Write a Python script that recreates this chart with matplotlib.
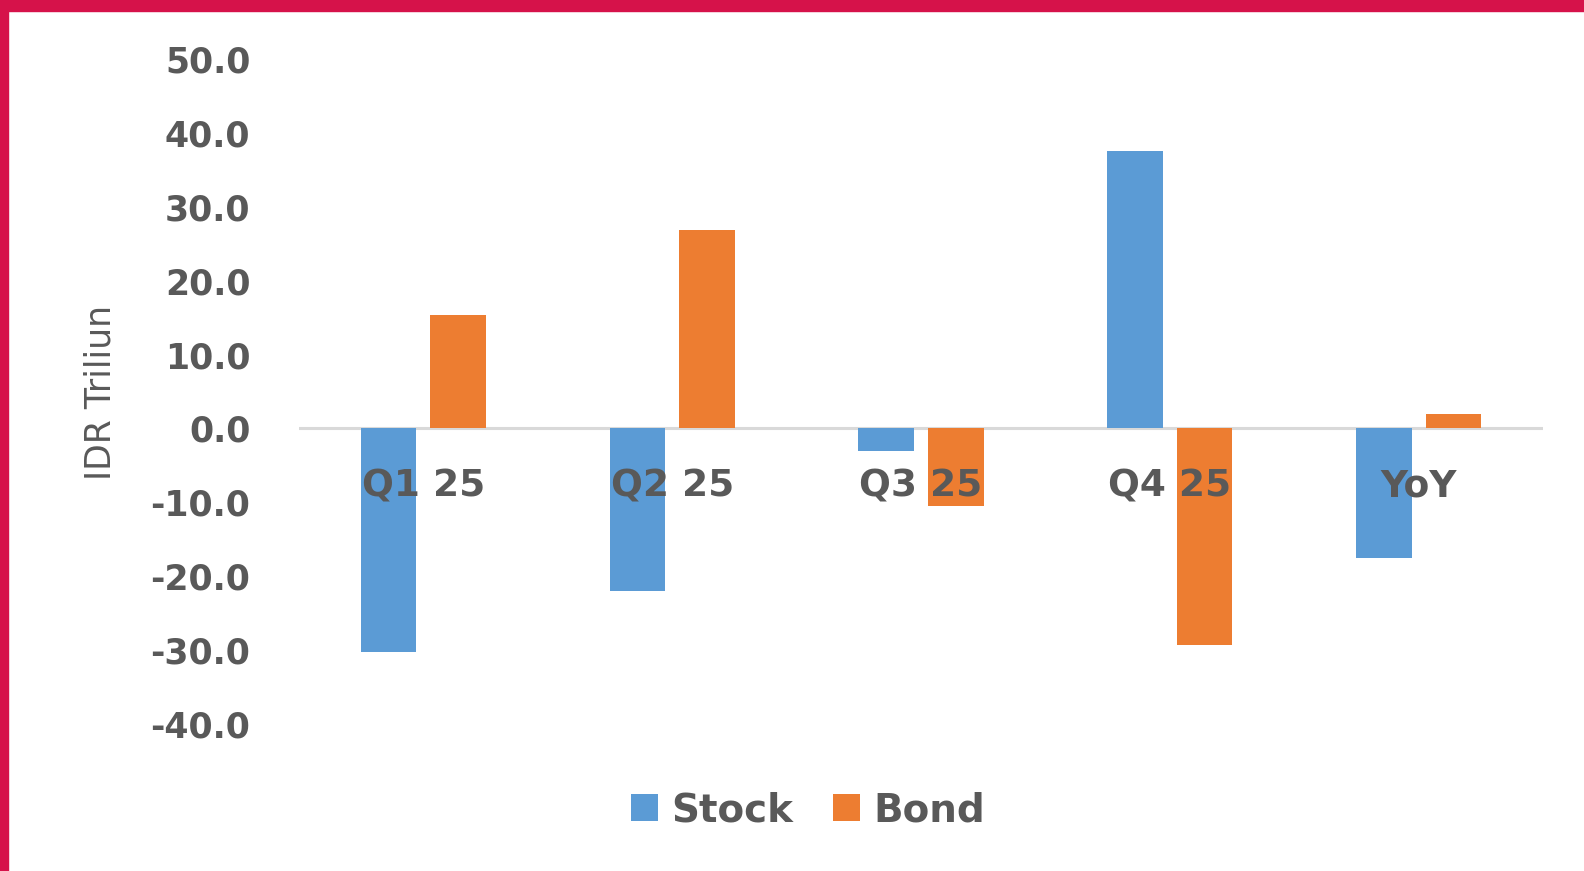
import numpy as np
import matplotlib
matplotlib.use("Agg")
import matplotlib.pyplot as plt
from matplotlib.patches import Rectangle

plt.rcParams['font.family'] = ['DejaVu Sans']

# data (IDR trillion)
categories = ["Q1 25", "Q2 25", "Q3 25", "Q4 25", "YoY"]
stock = [-30.2, -22.0, -3.0, 37.5, -17.6]
bond = [15.4, 26.9, -10.5, -29.3, 2.0]
yticks = [50, 40, 30, 20, 10, 0, -10, -20, -30, -40]

blue = '#5B9BD5'
orange = '#ED7D31'
text_grey = '#595959'
frame_red = '#D6124A'

fig = plt.figure(figsize=(15.84, 8.71), dpi=100)
fig.patch.set_facecolor('white')

# red frame on top and left edges
fig.patches.append(Rectangle((0, 1 - 11 / 871), 1, 11 / 871, transform=fig.transFigure,
                             color=frame_red, zorder=0))
fig.patches.append(Rectangle((0, 0), 8 / 1584, 1, transform=fig.transFigure,
                             color=frame_red, zorder=0))

ax = fig.add_axes([299 / 1584, 147 / 871, 1244 / 1584, 665 / 871])

x = np.arange(len(categories))
w = 0.224
off = 0.14
ax.bar(x - off, stock, w, color=blue, label='Stock', zorder=2)
ax.bar(x + off, bond, w, color=orange, label='Bond', zorder=2)

ax.axhline(0, color='#D9D9D9', lw=2.2, zorder=1)

ax.set_xlim(-0.5, len(categories) - 0.5)
ax.set_ylim(-40, 50)
for s in ax.spines.values():
    s.set_visible(False)

ax.set_xticks([])
ax.set_yticks(yticks)
ax.set_yticklabels([f"{v:.1f}" for v in yticks], fontsize=25, fontweight='bold', color=text_grey)
ax.tick_params(axis='y', length=0, pad=35)

# category labels sit just under the zero line, over the bars
for xi, name in zip(x, categories):
    ax.text(xi, -7.8, name, ha='center', va='center', fontsize=27, fontweight='bold',
            color=text_grey, zorder=3)

fig.text(101 / 1584, 1 - 392 / 871, "IDR Triliun", rotation=90, ha='center', va='center',
         fontsize=25, color=text_grey)

fig.legend(loc='center', bbox_to_anchor=(808 / 1584, 1 - 810 / 871), ncol=2, frameon=False,
           prop={'size': 28, 'weight': 'bold'}, labelcolor=text_grey,
           handlelength=0.7, handleheight=0.7, handletextpad=0.35, columnspacing=1.0)

fig.savefig("out.png", dpi=100)
